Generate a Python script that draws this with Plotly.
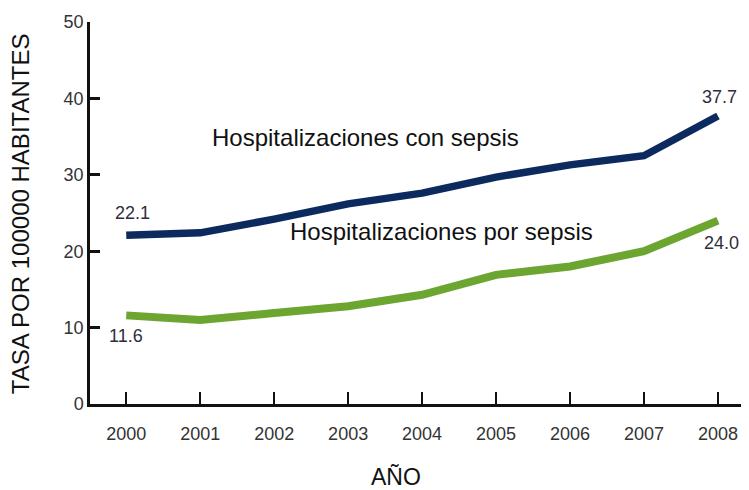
import plotly.graph_objects as go

years = [2000, 2001, 2002, 2003, 2004, 2005, 2006, 2007, 2008]
con_sepsis = [22.1, 22.4, 24.2, 26.2, 27.6, 29.7, 31.3, 32.5, 37.7]
por_sepsis = [11.6, 11.0, 11.9, 12.8, 14.3, 16.9, 18.0, 20.0, 24.0]
y_ticks = [0, 10, 20, 30, 40, 50]

BLUE = "#0c2a5e"
GREEN = "#6ca530"
LABEL_COLOR = "#2e2e38"
FONT = "Liberation Sans, Arial, sans-serif"

fig = go.Figure()
fig.add_trace(go.Scatter(x=years, y=con_sepsis, mode="lines",
                         line=dict(color=BLUE, width=7.5), hoverinfo="skip"))
fig.add_trace(go.Scatter(x=years, y=por_sepsis, mode="lines",
                         line=dict(color=GREEN, width=8), hoverinfo="skip"))

ann = []
# value labels from the data
ann.append(dict(x=years[0], y=con_sepsis[0], text=f"{con_sepsis[0]:.1f}", showarrow=False,
                xshift=6, yshift=22, font=dict(size=18, color=LABEL_COLOR, family=FONT)))
ann.append(dict(x=years[0], y=por_sepsis[0], text=f"{por_sepsis[0]:.1f}", showarrow=False,
                xshift=0, yshift=-21, font=dict(size=18, color=LABEL_COLOR, family=FONT)))
ann.append(dict(x=years[-1], y=con_sepsis[-1], text=f"{con_sepsis[-1]:.1f}", showarrow=False,
                xshift=2, yshift=19, font=dict(size=18, color=LABEL_COLOR, family=FONT)))
ann.append(dict(x=years[-1], y=por_sepsis[-1], text=f"{por_sepsis[-1]:.1f}", showarrow=False,
                xshift=4, yshift=-22, font=dict(size=18, color=LABEL_COLOR, family=FONT)))
# series names
ann.append(dict(x=2003.23, y=34.9, text="Hospitalizaciones con sepsis", showarrow=False,
                font=dict(size=24, color="#111111", family=FONT)))
ann.append(dict(x=2004.26, y=22.6, text="Hospitalizaciones por sepsis", showarrow=False,
                font=dict(size=24, color="#111111", family=FONT)))
# axis titles
ann.append(dict(xref="paper", yref="paper", x=0, y=0.497, xshift=-70, xanchor="center", yanchor="middle",
                text="TASA POR 100000 HABITANTES",
                textangle=-90, showarrow=False, font=dict(size=24, color="#111111", family=FONT)))
ann.append(dict(xref="paper", yref="paper", x=0.464, y=0, yshift=-73, xanchor="center", yanchor="middle",
                text="AÑO", showarrow=False, font=dict(size=23, color="#111111", family=FONT)))

fig.update_layout(
    width=741, height=482,
    margin=dict(l=82, r=0, t=14, b=86),
    paper_bgcolor="white", plot_bgcolor="white",
    showlegend=False,
    annotations=ann,
    font=dict(family=FONT),
)
fig.update_xaxes(range=[1999.51, 2008.42], tickvals=years, ticktext=[str(y) for y in years],
                 showgrid=False, zeroline=False, showline=True, linecolor="#111111", linewidth=2.5,
                 ticks="inside", ticklen=12, tickwidth=2, tickcolor="#111111", ticklabelstandoff=12,
                 tickfont=dict(size=18, color="#333333", family=FONT))
fig.update_yaxes(range=[0, 50], tickvals=y_ticks,
                 showgrid=False, zeroline=False, showline=True, linecolor="#111111", linewidth=2.5,
                 ticks="inside", ticklen=10, tickwidth=2.5, tickcolor="#111111",
                 tickfont=dict(size=18, color="#333333", family=FONT))

fig.write_html("out.html")
